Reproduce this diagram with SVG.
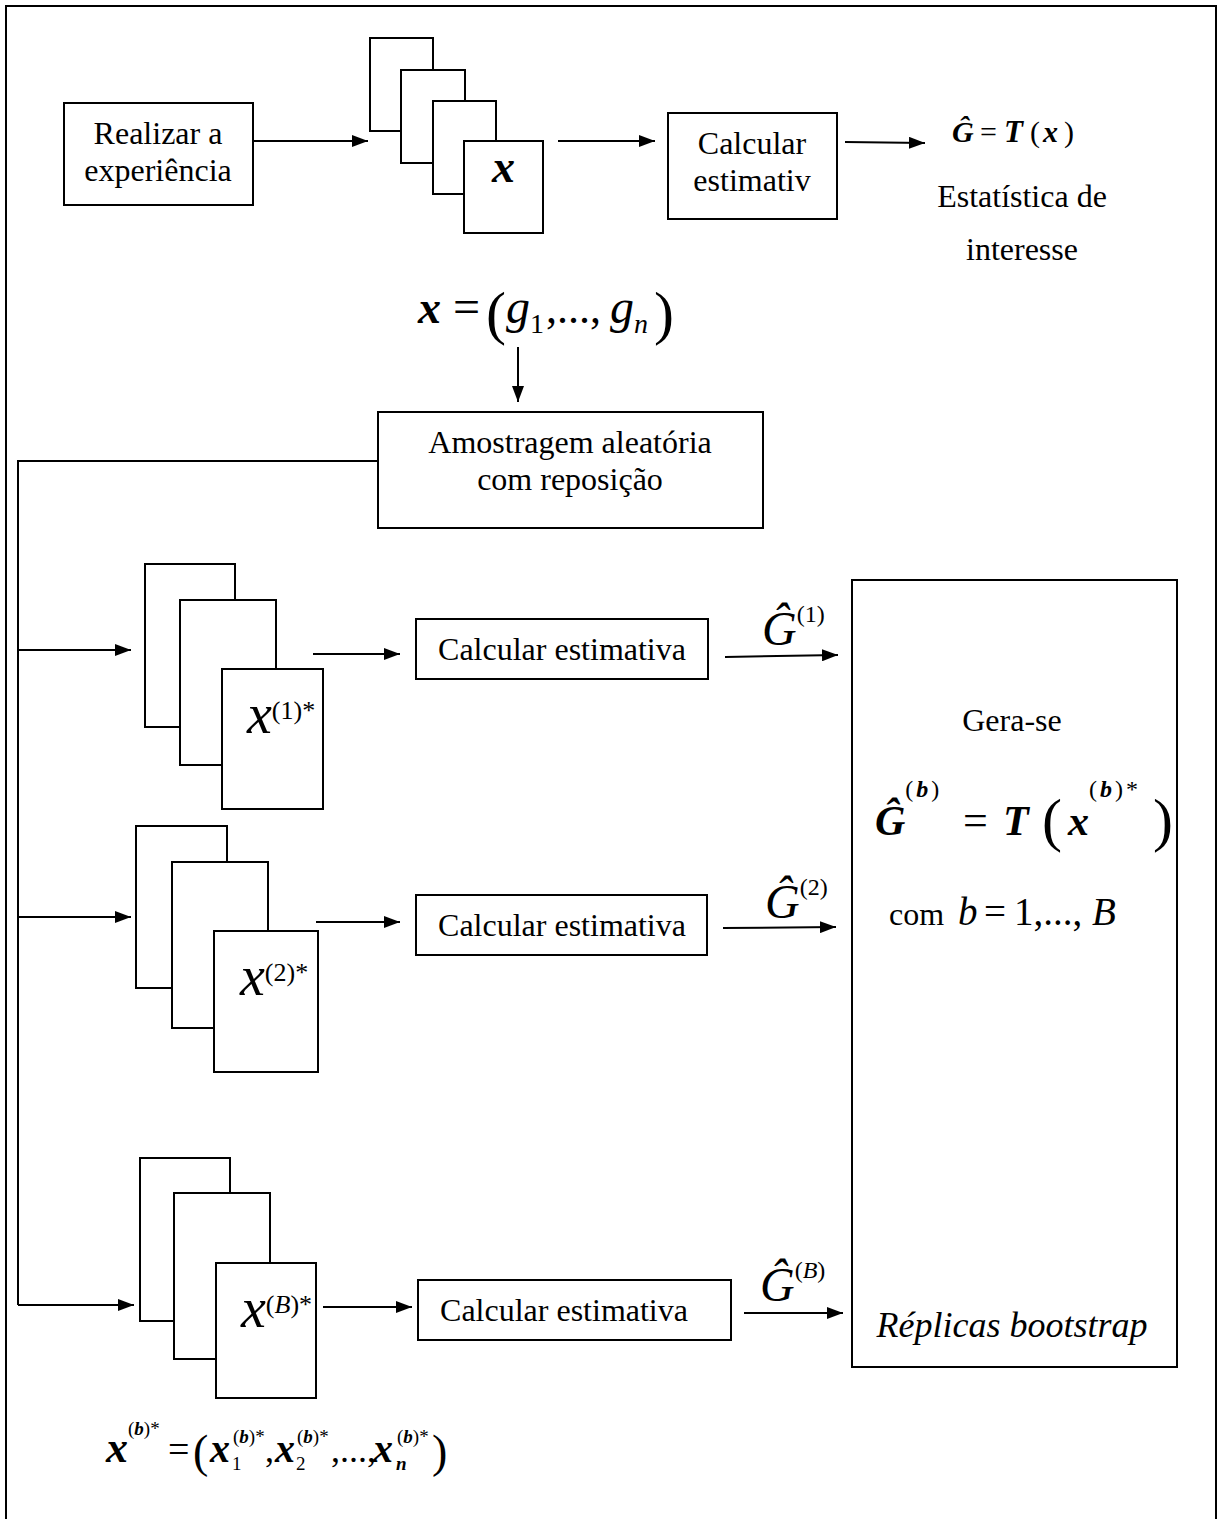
<svg xmlns="http://www.w3.org/2000/svg" width="1218" height="1519" viewBox="0 0 1218 1519">
<defs>
<marker id="ah" markerWidth="16" markerHeight="12" refX="16" refY="6" orient="auto" markerUnits="userSpaceOnUse">
<path d="M0,0 L16,6 L0,12 Z" fill="#000"/>
</marker>
<style>
.b{fill:#fff;stroke:#000;stroke-width:2}
.c{fill:none;stroke:#000;stroke-width:2}
.a{fill:none;stroke:#000;stroke-width:2;marker-end:url(#ah)}
text{font-family:"Liberation Serif","Times New Roman",serif;fill:#000}
.t{font-size:32px;text-anchor:middle}
.bi{font-weight:bold;font-style:italic}
.i{font-style:italic}
.n{font-weight:normal;font-style:normal}
</style>
</defs>
<rect x="6" y="6" width="1210" height="1530" fill="none" stroke="#000" stroke-width="2"/>

<g id="connectors">
<line class="a" x1="253" y1="141" x2="368" y2="141"/>
<line class="a" x1="558" y1="141" x2="655" y2="141"/>
<line class="a" x1="845" y1="142" x2="925" y2="143"/>
<line class="a" x1="518" y1="347" x2="518" y2="402"/>
<polyline class="c" points="378,461 18,461 18,1305"/>
<line class="a" x1="18" y1="650" x2="131" y2="650"/>
<line class="a" x1="18" y1="917" x2="131" y2="917"/>
<line class="a" x1="18" y1="1305" x2="134" y2="1305"/>
<line class="a" x1="313" y1="654" x2="400" y2="654"/>
<line class="a" x1="316" y1="922" x2="400" y2="922"/>
<line class="a" x1="323" y1="1307" x2="412" y2="1307"/>
<line class="a" x1="725" y1="657" x2="838" y2="655"/>
<line class="a" x1="723" y1="928" x2="836" y2="927"/>
<line class="a" x1="744" y1="1313" x2="843" y2="1313"/>
</g>

<g id="realizar">
<rect class="b" x="64" y="103" width="189" height="102"/>
<text class="t" x="158" y="144">Realizar a</text>
<text class="t" x="158" y="181">experiência</text>
</g>

<g id="stack-x">
<rect class="b" x="370" y="38" width="63" height="93"/>
<rect class="b" x="401" y="70" width="64" height="93"/>
<rect class="b" x="433" y="101" width="63" height="93"/>
<rect class="b" x="464" y="141" width="79" height="92"/>
<text class="bi" x="492" y="182" font-size="46">x</text>
</g>

<g id="calcular-top">
<rect class="b" x="668" y="113" width="169" height="106"/>
<text class="t" x="752" y="154">Calcular</text>
<text class="t" x="752" y="191">estimativ</text>
</g>

<g id="estatistica">
<text x="952" y="142" font-size="30" class="bi">Ĝ</text>
<text x="980" y="142" font-size="30">=</text>
<text x="1004" y="142" font-size="31" class="bi">T</text>
<text x="1030" y="142" font-size="30">(</text>
<text x="1043" y="142" font-size="30" class="bi">x</text>
<text x="1064" y="142" font-size="30">)</text>
<text class="t" x="1022" y="207">Estatística de</text>
<text class="t" x="1022" y="260">interesse</text>
</g>

<g id="x-def">
<text x="418" y="323" font-size="46" class="bi">x</text>
<text x="453" y="323" font-size="48">=</text>
<text x="486" y="333" font-size="60">(</text>
<text x="506" y="323" font-size="48" class="i">g<tspan class="n" font-size="28" dy="10">1</tspan></text>
<text x="546" y="323" font-size="44">,...,</text>
<text x="610" y="323" font-size="48" class="i">g<tspan font-size="28" dy="10">n</tspan></text>
<text x="654" y="333" font-size="60">)</text>
</g>

<g id="amostragem">
<rect class="b" x="378" y="412" width="385" height="116"/>
<text class="t" x="570" y="453">Amostragem aleatória</text>
<text class="t" x="570" y="490">com reposição</text>
</g>

<g id="stack-1">
<rect class="b" x="145" y="564" width="90" height="163"/>
<rect class="b" x="180" y="600" width="96" height="165"/>
<rect class="b" x="222" y="669" width="101" height="140"/>
<text x="247" y="733" font-size="56" class="i">x<tspan class="n" font-size="26" dy="-14">(1)*</tspan></text>
</g>

<g id="calc-1">
<rect class="b" x="416" y="619" width="292" height="60"/>
<text class="t" x="562" y="660">Calcular estimativa</text>
</g>

<g id="g1-label">
<text x="762" y="645" font-size="48" class="i">Ĝ<tspan class="n" font-size="24" dy="-23">(1)</tspan></text>
</g>

<g id="stack-2">
<rect class="b" x="136" y="826" width="91" height="162"/>
<rect class="b" x="172" y="862" width="96" height="166"/>
<rect class="b" x="214" y="931" width="104" height="141"/>
<text x="240" y="995" font-size="56" class="i">x<tspan class="n" font-size="26" dy="-14">(2)*</tspan></text>
</g>

<g id="calc-2">
<rect class="b" x="416" y="895" width="291" height="60"/>
<text class="t" x="562" y="936">Calcular estimativa</text>
</g>

<g id="g2-label">
<text x="765" y="918" font-size="48" class="i">Ĝ<tspan class="n" font-size="24" dy="-23">(2)</tspan></text>
</g>

<g id="stack-B">
<rect class="b" x="140" y="1158" width="90" height="163"/>
<rect class="b" x="174" y="1193" width="96" height="166"/>
<rect class="b" x="216" y="1263" width="100" height="135"/>
<text x="241" y="1327" font-size="56" class="i">x<tspan class="n" font-size="26" dy="-14">(<tspan class="i">B</tspan>)*</tspan></text>
</g>

<g id="calc-B">
<rect class="b" x="418" y="1280" width="313" height="60"/>
<text class="t" x="564" y="1321">Calcular estimativa</text>
</g>

<g id="gB-label">
<text x="760" y="1301" font-size="48" class="i">Ĝ<tspan class="n" font-size="24" dy="-23">(<tspan class="i">B</tspan>)</tspan></text>
</g>

<g id="replicas">
<rect class="b" x="852" y="580" width="325" height="787"/>
<text x="1012" y="731" font-size="32" text-anchor="middle">Gera-se</text>
<text x="875" y="835" font-size="42" class="bi">Ĝ<tspan font-size="24" dy="-38" letter-spacing="3"><tspan class="n">(</tspan>b<tspan class="n">)</tspan></tspan></text>
<text x="963" y="835" font-size="44">=</text>
<text x="1003" y="835" font-size="42" class="bi">T</text>
<text x="1042" y="840" font-size="60">(</text>
<text x="1068" y="835" font-size="42" class="bi">x<tspan font-size="24" dy="-38" letter-spacing="3"><tspan class="n">(</tspan>b<tspan class="n">)*</tspan></tspan></text>
<text x="1153" y="840" font-size="60">)</text>
<text x="889" y="925" font-size="32">com</text>
<text x="958" y="925" font-size="39" class="i">b</text>
<text x="984" y="925" font-size="39">=</text>
<text x="1014" y="925" font-size="39">1,...,</text>
<text x="1092" y="925" font-size="39" class="i">B</text>
<text x="1012" y="1337" font-size="36" class="i" text-anchor="middle">Réplicas bootstrap</text>
</g>

<g id="xb-def">
<text x="106" y="1462" font-size="44" class="bi">x<tspan font-size="19" dy="-27"><tspan class="n">(</tspan>b<tspan class="n">)*</tspan></tspan></text>
<text x="168" y="1462" font-size="38">=</text>
<text x="193" y="1467" font-size="46">(</text>
<text x="210" y="1462" font-size="40" class="bi">x</text>
<text x="233" y="1443" font-size="19" class="bi"><tspan class="n">(</tspan>b<tspan class="n">)*</tspan></text>
<text x="232" y="1470" font-size="19">1</text>
<text x="265" y="1462" font-size="36">,</text>
<text x="275" y="1462" font-size="40" class="bi">x</text>
<text x="297" y="1443" font-size="19" class="bi"><tspan class="n">(</tspan>b<tspan class="n">)*</tspan></text>
<text x="296" y="1470" font-size="19">2</text>
<text x="331" y="1462" font-size="36">,...,</text>
<text x="373" y="1462" font-size="40" class="bi">x</text>
<text x="397" y="1443" font-size="19" class="bi"><tspan class="n">(</tspan>b<tspan class="n">)*</tspan></text>
<text x="396" y="1470" font-size="19" class="bi">n</text>
<text x="432" y="1467" font-size="46">)</text>
</g>
</svg>
